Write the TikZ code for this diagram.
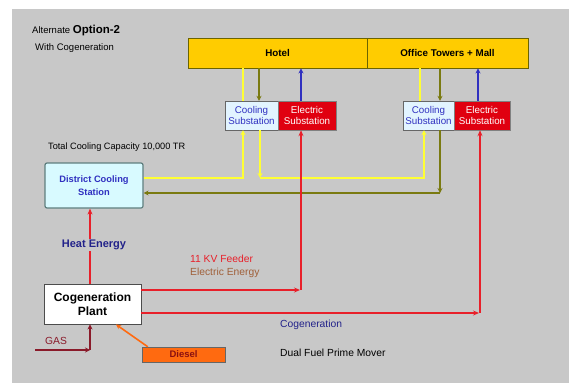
\documentclass[tikz,border=0pt]{standalone}
\usepackage{fontspec}
\setmainfont{Liberation Sans}
\usetikzlibrary{arrows.meta}
\definecolor{bg}{HTML}{C8C8C8}
\definecolor{gold}{HTML}{FFCC00}
\definecolor{goldb}{HTML}{6B6400}
\definecolor{ylw}{HTML}{FFFF33}
\definecolor{oliv}{HTML}{7A7A10}
\definecolor{blu}{HTML}{3030C0}
\definecolor{rd}{HTML}{E8202A}
\definecolor{esub}{HTML}{E00010}
\definecolor{csub}{HTML}{E2F4FF}
\definecolor{dcsf}{HTML}{D8FAFF}
\definecolor{dcsb}{HTML}{5F7F7F}
\definecolor{navy}{HTML}{22228A}
\definecolor{brn}{HTML}{A0603A}
\definecolor{gasc}{HTML}{8A1A2A}
\definecolor{dsl}{HTML}{FF6A10}
\definecolor{dslt}{HTML}{8A1010}
\tikzset{
  bar/.style={draw=goldb,fill=gold,line width=0.9pt,minimum height=30pt,inner sep=0pt,font=\bfseries\fontsize{9.8}{11}\selectfont},
  csbox/.style={draw=black!60,fill=csub,minimum width=53pt,minimum height=29pt,inner sep=0pt,align=center,text=blu,font=\fontsize{9.8}{11.5}\selectfont},
  esbox/.style={draw=black!50,fill=esub,minimum height=29pt,inner sep=0pt,align=center,text=white,font=\fontsize{9.8}{11.5}\selectfont},
  ylwl/.style={draw=ylw,line width=2.6pt,-{Stealth[length=5pt,width=5pt]}},
  ylwp/.style={draw=ylw,line width=2.6pt},
  olvl/.style={draw=oliv,line width=1.6pt,-{Stealth[length=5pt,width=5pt]}},
  blul/.style={draw=blu,line width=1.6pt,-{Stealth[length=5pt,width=5pt]}},
  redl/.style={draw=rd,line width=2pt,-{Stealth[length=6pt,width=5pt]}},
  lbl/.style={inner sep=0pt,anchor=west,font=\fontsize{10.3}{12}\selectfont},
}
\begin{document}
\begin{tikzpicture}[x=1pt,y=-1pt]
\useasboundingbox (0,0) rectangle (569,385);
\fill[bg] (12,9) rectangle (569,383);
% title
\node[lbl] (alt) at (32,31) {\fontsize{9.5}{11}\selectfont Alternate \fontsize{11.5}{12}\selectfont\bfseries Option-2};
\node[lbl] (withc) at (35,48) {\fontsize{9.5}{11}\selectfont With Cogeneration};
% buildings
\node[bar,minimum width=179pt] (hotel) at (277.5,53) {Hotel};
\node[bar,minimum width=161pt] (office) at (447.5,53) {Office Towers + Mall};
% substations
\node[csbox] (cs1) at (251.5,115.5) {Cooling\\Substation};
\node[esbox,minimum width=58pt] (es1) at (307,115.5) {Electric\\Substation};
\node[csbox,minimum width=51pt] (cs2) at (428.5,115.5) {Cooling\\Substation};
\node[esbox,minimum width=56pt] (es2) at (482,115.5) {Electric\\Substation};
% district cooling
\node[lbl,font=\fontsize{9.2}{11}\selectfont] (tcc) at (48,147) {Total Cooling Capacity 10,000 TR};
\node[draw=dcsb,fill=dcsf,line width=1.2pt,rounded corners=2pt,minimum width=98pt,minimum height=45pt,inner sep=0pt,align=center,text=blu,font=\bfseries\fontsize{9.3}{13}\selectfont] (dcs) at (94,185.5) {District Cooling\\Station};
% cogeneration plant
\node[draw=black!70,fill=white,line width=0.9pt,minimum width=97pt,minimum height=40pt,inner sep=0pt,align=center,font=\bfseries\fontsize{12}{14}\selectfont] (cogen) at (92.5,304) {Cogeneration\\Plant};
% diesel
\node[draw=black!60,fill=dsl,minimum width=83pt,minimum height=15pt,inner sep=0pt,text=dslt,font=\bfseries\fontsize{9.5}{10}\selectfont] (diesel) at (183.5,354.5) {Diesel};
% electricity (drawn before the heat label)
\draw[redl] (cogen.north -| 90,0) -- (dcs.south -| 90,0);
% labels
\node[fill=bg,inner sep=1pt,text=navy,font=\bfseries\fontsize{11}{12}\selectfont] (heat) at (94,245) {Heat Energy};
\node[lbl,text=rd] (kv) at (190,259) {11 KV Feeder};
\node[lbl,text=brn] (ee) at (190,273) {Electric Energy};
\node[lbl,text=navy] (cg) at (280,325) {Cogeneration};
\node[lbl] (dfpm) at (280,353) {Dual Fuel Prime Mover};
\node[lbl,text=gasc] (gas) at (45,341) {GAS};
% building connections
\draw[ylwp] (cs1.north -| 243,0) -- (hotel.south -| 243,0);
\draw[olvl] (hotel.south -| 259,0) -- (cs1.north -| 259,0);
\draw[blul] (es1.north -| 301,0) -- (hotel.south -| 301,0);
\draw[ylwp] (cs2.north -| 420,0) -- (office.south -| 420,0);
\draw[olvl] (office.south -| 440,0) -- (cs2.north -| 440,0);
\draw[blul] (es2.north -| 478,0) -- (office.south -| 478,0);
% cooling pipes
\draw[olvl] (cs2.south -| 440,0) -- (440,193);
\draw[olvl] (440,193) -- (dcs.east |- 0,193);
\draw[ylwl] (dcs.east |- 0,178) -| (cs1.south -| 243,0);
\draw[ylwl] (cs1.south -| 260,0) -- (260,178);
\draw[ylwl] (260,178) -| (cs2.south -| 424,0);
% electricity feeders
\draw[redl] (cogen.east |- 0,290) -- (300,290);
\draw[redl] (301,290) -- (es1.south -| 301,0);
\draw[redl] (cogen.east |- 0,313) -- (479,313);
\draw[redl] (480,313) -- (es2.south -| 480,0);
% fuel
\coordinate (gasin) at (35,350);
\coordinate (gasc) at (90,350);
\draw[draw=gasc,line width=1.6pt,-{Stealth[length=5pt,width=5pt]}] (gasin) -- (gasc);
\draw[draw=gasc,line width=1.6pt,-{Stealth[length=5pt,width=5pt]}] (gasc) -- (cogen.south -| 90,0);
\draw[draw=dsl,line width=1.6pt,-{Stealth[length=5pt,width=5pt]}] (diesel.north west) ++(6,0) -- (cogen.south -| 116,0);
\end{tikzpicture}
\end{document}
